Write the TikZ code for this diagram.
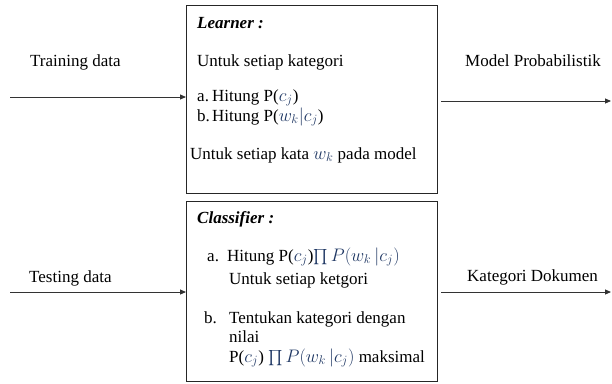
\documentclass[tikz,border=0pt]{standalone}
\usepackage{fontspec}
\usepackage{graphicx}
\setmainfont{Liberation Serif}
\usetikzlibrary{arrows.meta}
\definecolor{eqc}{HTML}{203864}
\newcommand{\mq}[1]{\textcolor{eqc}{\scalebox{1.05}{$#1$}}}
\newcommand{\bigprod}{\mathop{\raisebox{-2.5pt}{\scalebox{1.45}{$\prod$}}}}
\begin{document}
\begin{tikzpicture}[x=1pt,y=-1pt,
  box/.style={draw=black!85, line width=1.2pt, minimum width=251pt, anchor=north west, inner sep=0pt},
  txt/.style={anchor=base west, inner sep=0pt, font=\fontsize{17}{20}\selectfont},
  lbl/.style={anchor=base west, inner sep=0pt, font=\fontsize{17}{20}\selectfont},
  flow/.style={draw=black!80, line width=0.9pt, -{Triangle[length=6pt,width=5pt]}}]
\useasboundingbox (0,0) rectangle (612,383);
% boxes
\node[box, minimum height=188pt] (learner) at (186,5) {};
\node[box, minimum height=180pt] (classifier) at (186,201) {};
% learner text
\node[txt] (lt) at (197,28) {\textbf{\textit{Learner :}}};
\node[txt] (l1) at (197,66) {Untuk setiap kategori};
\node[txt] (la) at (197,101) {a.};
\node[txt] (la2) at (212,101) {Hitung P(\mq{c_j})};
\node[txt] (lb) at (197,121) {b.};
\node[txt] (lb2) at (212,121) {Hitung P(\mq{w_k|c_j})};
\node[txt] (l2) at (190,159) {Untuk setiap kata \mq{w_k} pada model};
% classifier text
\node[txt] (ct) at (197,223) {\textbf{\textit{Classifier :}}};
\node[txt] (ca) at (207,261) {a.};
\node[txt] (ca2) at (227,261) {Hitung P(\mq{c_j})\mq{\bigprod P(w_k\,|c_j)}};
\node[txt] (ca3) at (229,284) {Untuk setiap ketgori};
\node[txt] (cb) at (204,323) {b.};
\node[txt] (cb2) at (229,323) {Tentukan kategori dengan};
\node[txt] (cb3) at (229,342) {nilai};
\node[txt] (cb4) at (229,362) {P(\mq{c_j}) \mq{\bigprod P(w_k\,|c_j)} maksimal};
% outside labels
\node[lbl] (train) at (30,66) {Training data};
\node[lbl] (model) at (465,66) {Model Probabilistik};
\node[lbl] (test) at (29,282) {Testing data};
\node[lbl] (kat) at (467,281) {Kategori Dokumen};
% arrows
\coordinate (trs) at (10,97);
\coordinate (tes) at (10,292);
\coordinate (moe) at (611,101);
\coordinate (kae) at (611,292);
\draw[flow] (trs) -- (trs -| learner.west);
\draw[flow] (tes) -- (tes -| classifier.west);
\draw[flow, shorten <=3pt] (moe -| learner.east) -- (moe);
\draw[flow, shorten <=3pt] (kae -| classifier.east) -- (kae);
\end{tikzpicture}
\end{document}
